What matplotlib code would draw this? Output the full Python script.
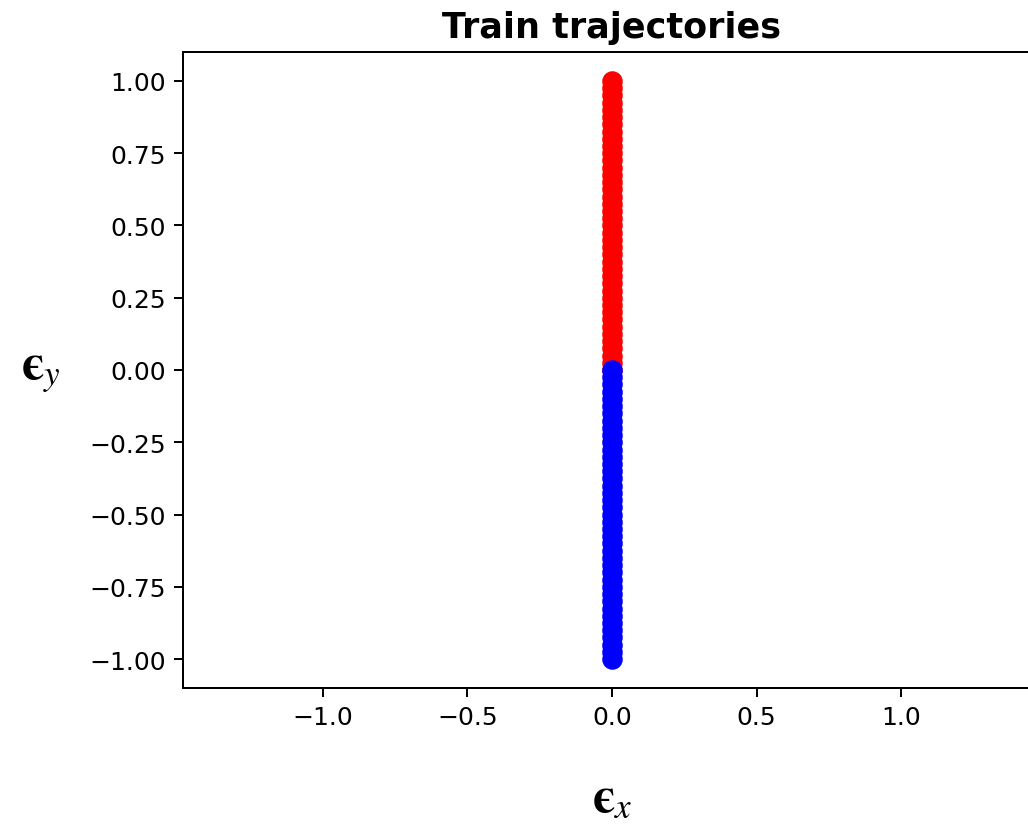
import matplotlib
matplotlib.use("Agg")
import matplotlib.pyplot as plt

plt.rcParams["mathtext.fontset"] = "stix"

# Trajectory samples in (eps_x, eps_y)
up_y = [0.0, 0.025, 0.05, 0.075, 0.1, 0.125, 0.15, 0.175, 0.2, 0.225,
        0.25, 0.275, 0.3, 0.325, 0.35, 0.375, 0.4, 0.425, 0.45, 0.475,
        0.5, 0.525, 0.55, 0.575, 0.6, 0.625, 0.65, 0.675, 0.7, 0.725,
        0.75, 0.775, 0.8, 0.825, 0.85, 0.875, 0.9, 0.925, 0.95, 0.975, 1.0]
up_x = [0.0] * len(up_y)
down_y = [-v for v in up_y]
down_x = [0.0] * len(down_y)

fig = plt.figure(figsize=(1028 / 180, 830 / 180), dpi=180)
ax = fig.add_axes([183 / 1028, 141 / 830, 858 / 1028, 636 / 830])

ax.scatter(up_x, up_y, color="red", s=52)
ax.scatter(down_x, down_y, color="blue", s=52)

ax.set_aspect("equal", adjustable="datalim")
ax.set_ylim(-1.1, 1.1)
ax.set_xlim(-1.1, 1.1)

ax.set_title("Train trajectories", fontsize=14, fontweight="bold")
ax.set_xlabel(r"$\mathbf{ϵ}_{x}$", fontsize=20, va="center")
ax.set_ylabel(r"$\mathbf{ϵ}_{y}$", fontsize=20, rotation=0, va="center", ha="center")
ax.xaxis.set_label_coords(0.5, -0.17)
ax.yaxis.set_label_coords(-0.165, 0.5)

fig.savefig("out.png", dpi=180)
